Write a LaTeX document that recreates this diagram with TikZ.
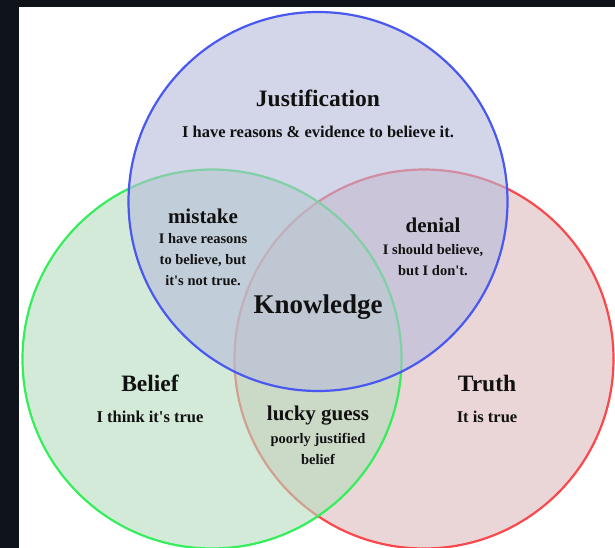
\documentclass[tikz,border=0pt]{standalone}
\usepackage{fontspec}
\setmainfont{Liberation Serif}
\definecolor{vnFrame}{RGB}{15,19,26}
\definecolor{vnBlue}{RGB}{72,88,240}
\definecolor{vnGreen}{RGB}{52,238,92}
\definecolor{vnRed}{RGB}{250,72,76}
\definecolor{vnBlueFill}{RGB}{182,187,218}
\definecolor{vnGreenFill}{RGB}{183,220,190}
\definecolor{vnRedFill}{RGB}{220,187,187}
\definecolor{vnText}{RGB}{17,17,17}
\tikzset{
  ring/.style={line width=2.2pt, fill opacity=0.6},
  bigtitle/.style={text=vnText, font=\fontsize{23.5}{26}\selectfont\bfseries},
  regtitle/.style={text=vnText, font=\fontsize{21}{24}\selectfont\bfseries},
  subtext/.style={text=vnText, font=\fontsize{16.5}{20}\selectfont\bfseries},
  smalltext/.style={text=vnText, align=center, inner sep=0pt,
    font=\fontsize{14.5}{21}\selectfont\bfseries}
}
\begin{document}
\begin{tikzpicture}[x=1pt, y=-1pt]
  \useasboundingbox (0,0) rectangle (615,548);
  % dark frame round the page
  \fill[vnFrame] (0,0) rectangle (615,548);
  \fill[white] (19,7) rectangle (615,548);
  % the three sets
  \filldraw[ring, fill=vnRedFill, draw=vnRed] (424,359) circle (189.5);
  \filldraw[ring, fill=vnGreenFill, draw=vnGreen] (212,359) circle (189.5);
  \filldraw[ring, fill=vnBlueFill, draw=vnBlue] (318,201.5) circle (189.5);
  % Justification
  \node[bigtitle] (just) at (318,98) {Justification};
  \node[subtext] (justtxt) at (318,132) {I have reasons \& evidence to believe it.};
  % Belief and Truth
  \node[bigtitle] (belief) at (150,383) {Belief};
  \node[subtext] (belieftxt) at (150,417) {I think it\textquotesingle s true};
  \node[bigtitle] (truth) at (487,383) {Truth};
  \node[subtext] (truthtxt) at (487,417) {It is true};
  % overlaps
  \node[regtitle] (mistake) at (203,216) {mistake};
  \node[smalltext] (mistaketxt) at (203,260) {I have reasons\\to believe, but\\it\textquotesingle s not true.};
  \node[regtitle] (denial) at (433,225) {denial};
  \node[smalltext] (denialtxt) at (433,260) {I should believe,\\but I don\textquotesingle t.};
  \node[regtitle] (lucky) at (318,416) {lucky guess};
  \node[smalltext] (luckytxt) at (318,449) {poorly justified\\belief};
  \node[text=vnText, font=\fontsize{27}{30}\selectfont\bfseries] (know) at (318,307) {Knowledge};
\end{tikzpicture}
\end{document}
